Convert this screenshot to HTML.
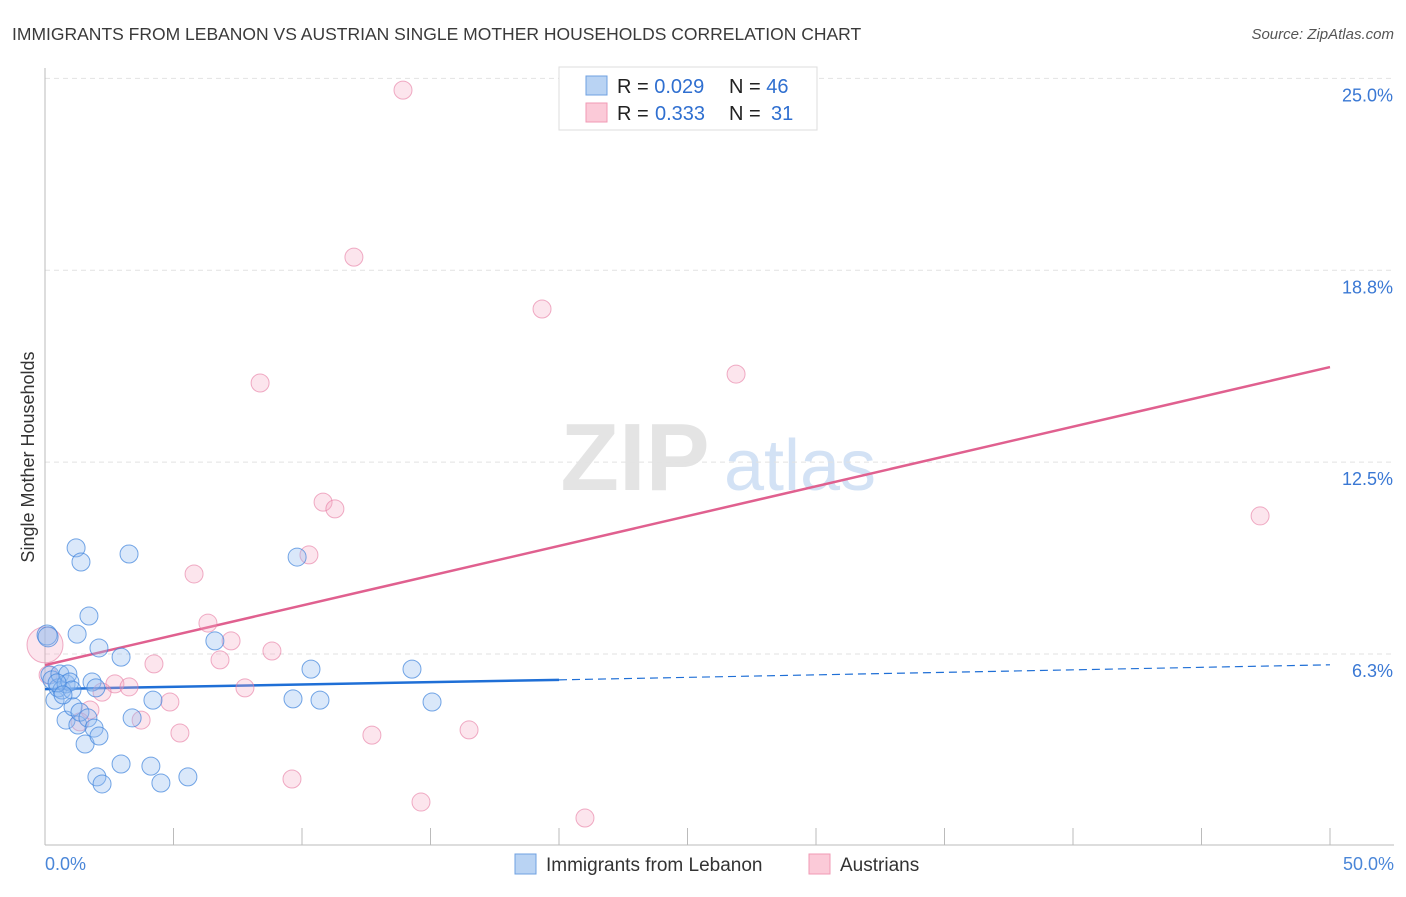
<!DOCTYPE html>
<html><head><meta charset="utf-8"><style>
body{margin:0;background:#fff;font-family:"Liberation Sans",sans-serif;}
svg text{font-family:"Liberation Sans",sans-serif;}
</style></head><body>
<svg id="chart" width="1406" height="892" xmlns="http://www.w3.org/2000/svg">
<text x="12" y="40" font-size="17.5" fill="#3a3a3a">IMMIGRANTS FROM LEBANON VS AUSTRIAN SINGLE MOTHER HOUSEHOLDS CORRELATION CHART</text>
<text x="1394" y="39" font-size="15" fill="#555" font-style="italic" text-anchor="end">Source: ZipAtlas.com</text>
<text x="34" y="457" font-size="18" fill="#333" text-anchor="middle" transform="rotate(-90 34 457)">Single Mother Households</text>
<g>
<text x="635" y="490" font-size="96" fill="#e4e4e4" font-family="Liberation Serif" text-anchor="middle" font-weight="bold">ZIP</text>
<text x="800" y="490" font-size="72" fill="#d3e2f5" text-anchor="middle">atlas</text>
</g>
<g id="grid"></g><g id="axes"></g><g id="lines"></g><g id="pts"></g>
<g>
<rect x="559" y="67" width="258" height="63" fill="#fff" stroke="#ddd"/>
<rect x="586" y="76" width="21" height="19" fill="#b9d3f3" stroke="#6fa0e0"/>
<rect x="586" y="103" width="21" height="19" fill="#fbcad8" stroke="#f09ab5"/>
<text x="617" y="93" font-size="20" fill="#222">R = <tspan fill="#2f6fd0">0.029</tspan><tspan x="729">N = </tspan><tspan fill="#2f6fd0">46</tspan></text>
<text x="617" y="120" font-size="20" fill="#222">R = <tspan x="655" fill="#2f6fd0">0.333</tspan><tspan x="729">N = </tspan><tspan x="771" fill="#2f6fd0">31</tspan></text>
</g>
<g>
<rect x="515" y="854" width="21" height="20" fill="#b9d3f3" stroke="#6fa0e0"/>
<text x="546" y="871" font-size="19" fill="#333">Immigrants from Lebanon</text>
<rect x="809" y="854" width="21" height="20" fill="#fbcad8" stroke="#f09ab5"/>
<text x="840" y="871" font-size="19" fill="#333">Austrians</text>
</g>
</svg>
<script>
const yTicks=[6.25,12.5,18.75,25];
const yTickLabels=["6.3%","12.5%","18.8%","25.0%"];
const xTickLabels=["0.0%","50.0%"];
const blueX=[0.08,0.12,0.19,0.27,0.39,0.51,0.58,0.66,0.82,0.89,0.97,1.05,0.82,1.09,1.28,1.36,1.56,1.67,1.91,2.10,2.02,2.22,1.21,1.40,1.71,1.25,2.10,1.83,1.98,2.96,3.27,2.96,3.39,4.12,4.20,4.51,5.56,6.61,9.81,9.65,10.35,10.70,14.28,15.06,0.47,0.70];
const blueY=[6.90,6.84,5.60,5.44,4.78,5.18,5.63,5.11,5.31,5.63,5.37,5.11,4.13,4.56,3.97,4.39,3.35,4.20,3.87,3.61,2.28,2.05,9.74,9.28,7.52,6.93,6.48,5.37,5.18,6.18,9.54,2.70,4.20,2.63,4.78,2.08,2.28,6.71,9.44,4.82,5.79,4.78,5.79,4.72,5.34,4.95];
const pinkX=[13.93,12.02,19.34,8.37,26.89,10.82,11.28,10.27,5.80,47.28,6.34,7.24,6.81,8.83,4.24,0.0,2.72,3.27,2.22,7.78,4.86,1.75,3.74,1.36,5.25,12.72,16.50,9.61,14.63,21.01,0.12];
const pinkY=[24.65,19.21,17.52,15.11,15.40,11.23,11.01,9.51,8.89,10.78,7.29,6.71,6.09,6.38,5.96,6.58,5.31,5.21,5.04,5.18,4.72,4.46,4.13,4.07,3.71,3.64,3.81,2.21,1.46,0.94,5.60];
const blueTrend=[[0,5.14],[20,5.44],[50,5.93]];
const pinkTrend=[[0,5.92],[50,15.63]];
const X=v=>45+v*25.7, Y=v=>655-(v-6.25)*30.7;
const NS="http://www.w3.org/2000/svg";
function mk(tag,attrs,parent){const e=document.createElementNS(NS,tag);for(const k in attrs)e.setAttribute(k,attrs[k]);document.getElementById(parent).appendChild(e);return e;}
yTicks.forEach((t,i)=>{
 const l=mk('line',{x1:45,x2:1394,y1:Y(t)-1,y2:Y(t)-1,stroke:'#e2e2e2','stroke-dasharray':'5,4'},'grid');
 
 
 const tx=mk('text',{x:1393,y:Y(t)+22,'font-size':18,fill:'#3a78d4','text-anchor':'end'},'grid');
 tx.textContent=yTickLabels[i];
 
 
});
const ax=mk('line',{x1:45,x2:45,y1:68,y2:845,stroke:'#bbb'},'axes');


const bx=mk('line',{x1:45,x2:1394,y1:845,y2:845,stroke:'#bbb'},'axes');


for(let i=0;i<=10;i++){const t=mk('line',{x1:X(i*5),x2:X(i*5),y1:828,y2:845,stroke:'#bbb'},'axes');
 
 }
[[0,'start',45],[50,'end',1394]].forEach((a,i)=>{const t=mk('text',{x:a[2],y:870,'font-size':18,fill:'#4a86d8','text-anchor':a[1]},'axes');t.textContent=xTickLabels[i];
 
 });
function pt(x,y,r,fill,stroke,name){const c=mk('circle',{cx:X(x),cy:Y(y),r:r,fill:fill,stroke:stroke,'stroke-width':1},'pts');
 
 }
pinkX.forEach((x,i)=>pt(x,pinkY[i],i===15?18:9,'rgba(246,170,195,0.3)','rgba(230,120,160,0.6)','point-austrians'));
blueX.forEach((x,i)=>pt(x,blueY[i],i<2?10:9,'rgba(150,190,240,0.35)','rgba(60,130,220,0.7)','point-lebanon'));
const b1=mk('line',{x1:X(blueTrend[0][0]),y1:Y(blueTrend[0][1]),x2:X(blueTrend[1][0]),y2:Y(blueTrend[1][1]),stroke:'#1f6fd6','stroke-width':2.5},'lines');


const b2=mk('line',{x1:X(blueTrend[1][0]),y1:Y(blueTrend[1][1]),x2:X(blueTrend[2][0]),y2:Y(blueTrend[2][1]),stroke:'#1f6fd6','stroke-width':1.2,'stroke-dasharray':'8,5'},'lines');


const p1=mk('line',{x1:X(pinkTrend[0][0]),y1:Y(pinkTrend[0][1]),x2:X(pinkTrend[1][0]),y2:Y(pinkTrend[1][1]),stroke:'#e0608f','stroke-width':2.5},'lines');


</script>
</body></html>
